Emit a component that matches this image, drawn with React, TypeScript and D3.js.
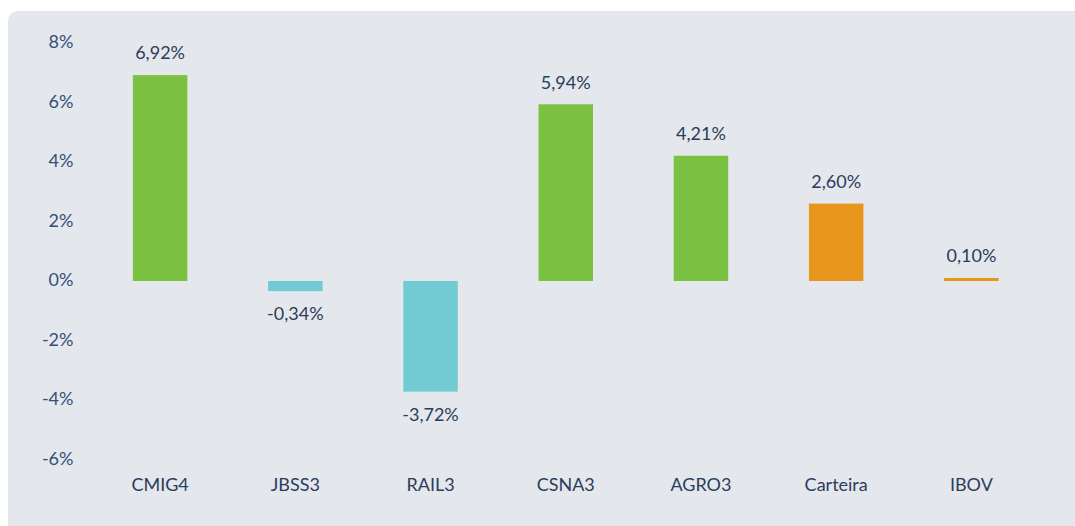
import React from "react";
import * as d3 from "d3";

const categories = ["CMIG4", "JBSS3", "RAIL3", "CSNA3", "AGRO3", "Carteira", "IBOV"];
const values = [6.92, -0.34, -3.72, 5.94, 4.21, 2.6, 0.1];
const kinds = ["stock", "stock", "stock", "stock", "stock", "bench", "bench"];
const yTicks = [8, 6, 4, 2, 0, -2, -4, -6];

const W = 1075;
const H = 526;
const FONT = "Lato, 'Open Sans', sans-serif";
const TEXT = "#2b3d5b";

function colorFor(v: number, k: string) {
  if (k === "bench") return "#e8951c";
  return v >= 0 ? "#7bc142" : "#72cbd3";
}

const fmt = (v: number) => v.toFixed(2).replace(".", ",") + "%";

export default function App() {
  const x = d3.scaleBand<string>().domain(categories).range([92.5, 1039]).paddingInner(0.6).paddingOuter(0.3);
  const y = d3.scaleLinear().domain([-6, 8]).range([281 + 6 * 29.75, 281 - 8 * 29.75]);
  const bw = 54.5;
  return (
    <svg width={W} height={H} style={{ position: "absolute", left: 0, top: 0 }}>
      <rect x={8} y={11} width={W + 20} height={H} rx={10} ry={10} fill="#e4e7eb" />
      {yTicks.map((t) => (
        <text key={t} x={73.5} y={y(t) - 1} dy="0.35em" textAnchor="end" fontFamily={FONT} fontSize={18} fill="#34507a">
          {t}%
        </text>
      ))}
      {categories.map((c, i) => {
        const v = values[i];
        const cx = (x(c) as number) + x.bandwidth() / 2;
        const y0 = y(0);
        const y1 = y(v);
        const top = Math.min(y0, y1);
        const h = Math.max(Math.abs(y1 - y0), 3);
        return (
          <g key={c}>
            <rect x={cx - bw / 2} y={v >= 0 ? y0 - h : y0} width={bw} height={h} fill={colorFor(v, kinds[i])} />
            <text
              x={cx}
              y={v >= 0 ? top - 22 : y0 + h + 23}
              dy="0.35em"
              textAnchor="middle"
              fontFamily={FONT}
              fontSize={18}
              fill={TEXT}
            >
              {fmt(v)}
            </text>
            <text x={cx} y={485} dy="0.35em" textAnchor="middle" fontFamily={FONT} fontSize={18} fill={TEXT}>
              {c}
            </text>
          </g>
        );
      })}
    </svg>
  );
}
